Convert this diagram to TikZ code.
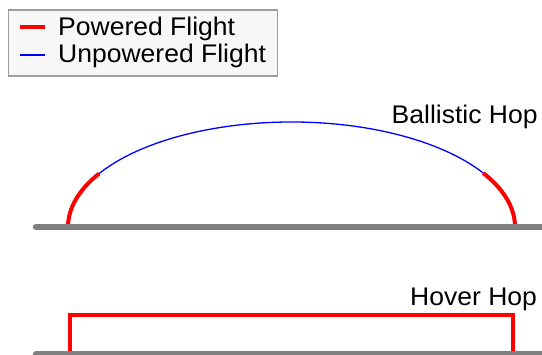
\documentclass[tikz,border=0pt]{standalone}
\usepackage{fontspec}
\setmainfont[FakeStretch=1.04]{Liberation Sans}
\begin{document}
\begin{tikzpicture}[x=1pt,y=-1pt,
  lbl/.style={inner sep=0pt,anchor=base west,font=\fontsize{25.5}{30}\selectfont},
  powered/.style={draw=red,line width=4pt},
  unpowered/.style={draw=blue,line width=1.3pt},
  ground/.style={draw=black!50,line width=6.5pt,line cap=round}]
\useasboundingbox (0,0) rectangle (542,355);
% legend
\draw[draw=black!38,fill=black!3,line width=1.2pt] (8.5,10) rectangle (277.5,76);
\coordinate (l1a) at (20,26.7); \coordinate (l1b) at (45,26.7);
\coordinate (l2a) at (20,55); \coordinate (l2b) at (45,55);
\draw[powered] (l1a) -- (l1b);
\draw[unpowered] (l2a) -- (l2b);
\node[lbl] (tp) at (58,36) {Powered Flight};
\node[lbl] (tu) at (58,62.7) {Unpowered Flight};
% ballistic hop
\coordinate (bc) at (291.5,227);
\draw[powered] (bc) ++(180:223.5 and 105) arc[start angle=180,end angle=210.6,x radius=223.5,y radius=105];
\draw[unpowered] (bc) ++(210.6:223.5 and 105) arc[start angle=210.6,end angle=329.1,x radius=223.5,y radius=105];
\draw[powered] (bc) ++(329.1:223.5 and 105) arc[start angle=329.1,end angle=360,x radius=223.5,y radius=105];
\coordinate (g1a) at (36,227); \coordinate (g1b) at (560,227);
\draw[ground] (g1a) -- (g1b);
\node[lbl] (tb) at (391.5,123.3) {Ballistic Hop};
% hover hop
\coordinate (h1) at (70,356); \coordinate (h2) at (70,315);
\coordinate (h3) at (513,315); \coordinate (h4) at (513,356);
\draw[powered] (h1) -- (h2) -- (h3) -- (h4);
\coordinate (g2a) at (36,354.5); \coordinate (g2b) at (560,354.5);
\draw[ground] (g2a) -- (g2b);
\node[lbl] (th) at (410,305.5) {Hover Hop};
\end{tikzpicture}
\end{document}
